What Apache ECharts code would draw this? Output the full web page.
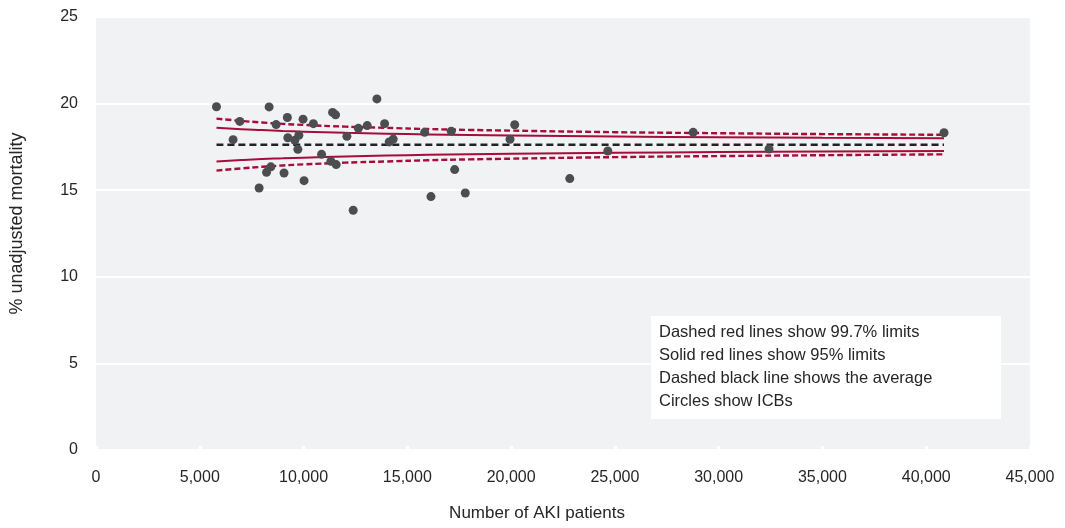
<!DOCTYPE html>
<html>
<head>
<meta charset="utf-8">
<script src="https://cdn.jsdelivr.net/npm/echarts@6/dist/echarts.min.js"></script>
<style>html,body{margin:0;padding:0;background:#fff}#c{width:1065px;height:528px}</style>
</head>
<body>
<div id="c"></div>
<script>
// ICB points: [number of AKI patients, % unadjusted mortality]
const icbPatients = [5805, 8341, 6929, 6606, 8679, 9219, 9976, 10473, 11398, 11543,
  9243, 9581, 9773, 9725, 12088, 10868, 11316, 11572, 8423, 8216,
  9060, 10024, 7859, 12392, 13534, 12642, 13067, 13905, 14127, 14320,
  15834, 17117, 17281, 17792, 16138, 20174, 19947, 22826, 24658, 28771,
  32425, 40858];
const icbMortality = [19.82, 19.81, 18.97, 17.92, 18.79, 19.20, 19.10, 18.84, 19.49, 19.35,
  18.03, 17.88, 18.17, 17.36, 18.11, 17.07, 16.67, 16.48, 16.35, 16.03,
  15.99, 15.55, 15.13, 13.84, 20.27, 18.57, 18.73, 18.84, 17.79, 17.95,
  18.34, 18.41, 16.19, 14.84, 14.63, 18.78, 17.94, 15.67, 17.26, 18.34,
  17.38, 18.32];

// Funnel limits
const limitX = [5805, 7000, 8000, 9000, 10000, 12000, 14000, 16000, 18000, 20000, 25000, 30000, 35000, 40858];
const upper95 = [18.61, 18.52, 18.47, 18.42, 18.38, 18.31, 18.26, 18.22, 18.19, 18.16, 18.10, 18.06, 18.03, 18.00];
const lower95 = [16.65, 16.74, 16.80, 16.84, 16.88, 16.95, 17.00, 17.04, 17.07, 17.10, 17.16, 17.20, 17.23, 17.26];
const upper997 = [19.13, 19.00, 18.91, 18.83, 18.77, 18.67, 18.60, 18.53, 18.48, 18.44, 18.35, 18.29, 18.24, 18.20];
const lower997 = [16.13, 16.26, 16.35, 16.43, 16.49, 16.59, 16.66, 16.73, 16.78, 16.82, 16.91, 16.97, 17.02, 17.07];
const averageX = [5805, 40858];
const averageY = [17.63, 17.63];

const noteLines = [
  'Dashed red lines show 99.7% limits',
  'Solid red lines show 95% limits',
  'Dashed black line shows the average',
  'Circles show ICBs'
];

const RED = '#a50e3a';
const TEXT = '#262626';
const FONT = 'Liberation Sans, Arial, sans-serif';
const pair = (xs, ys) => xs.map((x, i) => [x, ys[i]]);

function lineSeries(name, ys, xs, color, width, type) {
  return {
    name, type: 'line', data: pair(xs, ys), smooth: true, showSymbol: false, symbol: 'none',
    silent: true, z: 2,
    lineStyle: { color, width, type }
  };
}

const chart = echarts.init(document.getElementById('c'), null, { renderer: 'canvas' });
chart.setOption({
  animation: false,
  backgroundColor: '#ffffff',
  grid: { left: 96, right: 35, top: 17, bottom: 78, show: true, backgroundColor: '#f1f2f4', borderWidth: 0 },
  xAxis: {
    type: 'value', min: 0, max: 45000, interval: 5000,
    name: 'Number of AKI patients', nameLocation: 'middle', nameGap: 55,
    nameTextStyle: { fontFamily: FONT, fontSize: 17, color: TEXT, padding: [0, 52, 0, 0] },
    axisLine: { show: false },
    axisTick: { show: true, inside: true, length: 4, lineStyle: { color: '#ffffff', width: 3 } },
    splitLine: { show: false },
    axisLabel: { margin: 20, fontFamily: FONT, fontSize: 16, color: TEXT,
      formatter: v => v.toLocaleString('en-US') }
  },
  yAxis: {
    type: 'value', min: 0, max: 25, interval: 5,
    name: '% unadjusted mortality', nameLocation: 'middle', nameGap: 70, nameRotate: 90,
    nameTextStyle: { fontFamily: FONT, fontSize: 18, color: TEXT, padding: [0, 0, 0, 20] },
    axisLine: { show: false }, axisTick: { show: false },
    splitLine: { show: true, lineStyle: { color: '#ffffff', width: 2 } },
    axisLabel: { margin: 18, fontFamily: FONT, fontSize: 16, color: TEXT }
  },
  series: [
    lineSeries('upper997', upper997, limitX, RED, 2.4, [6, 3]),
    lineSeries('lower997', lower997, limitX, RED, 2.4, [6, 3]),
    lineSeries('upper95', upper95, limitX, RED, 2, 'solid'),
    lineSeries('lower95', lower95, limitX, RED, 2, 'solid'),
    lineSeries('average', averageY, averageX, '#222222', 2.5, [7, 4]),
    {
      name: 'ICBs', type: 'scatter', data: pair(icbPatients, icbMortality),
      symbol: 'circle', symbolSize: 9, z: 5,
      itemStyle: { color: '#4b4d51', opacity: 1 }
    }
  ],
  graphic: [
    { type: 'rect', left: 651, top: 316, shape: { width: 350, height: 103 },
      style: { fill: '#ffffff' }, z: 10 },
    ...noteLines.map((t, i) => ({
      type: 'text', left: 659, top: 324 + i * 23, z: 11,
      style: { text: t, fill: TEXT, font: '16.5px ' + FONT }
    }))
  ]
});
</script>
</body>
</html>
